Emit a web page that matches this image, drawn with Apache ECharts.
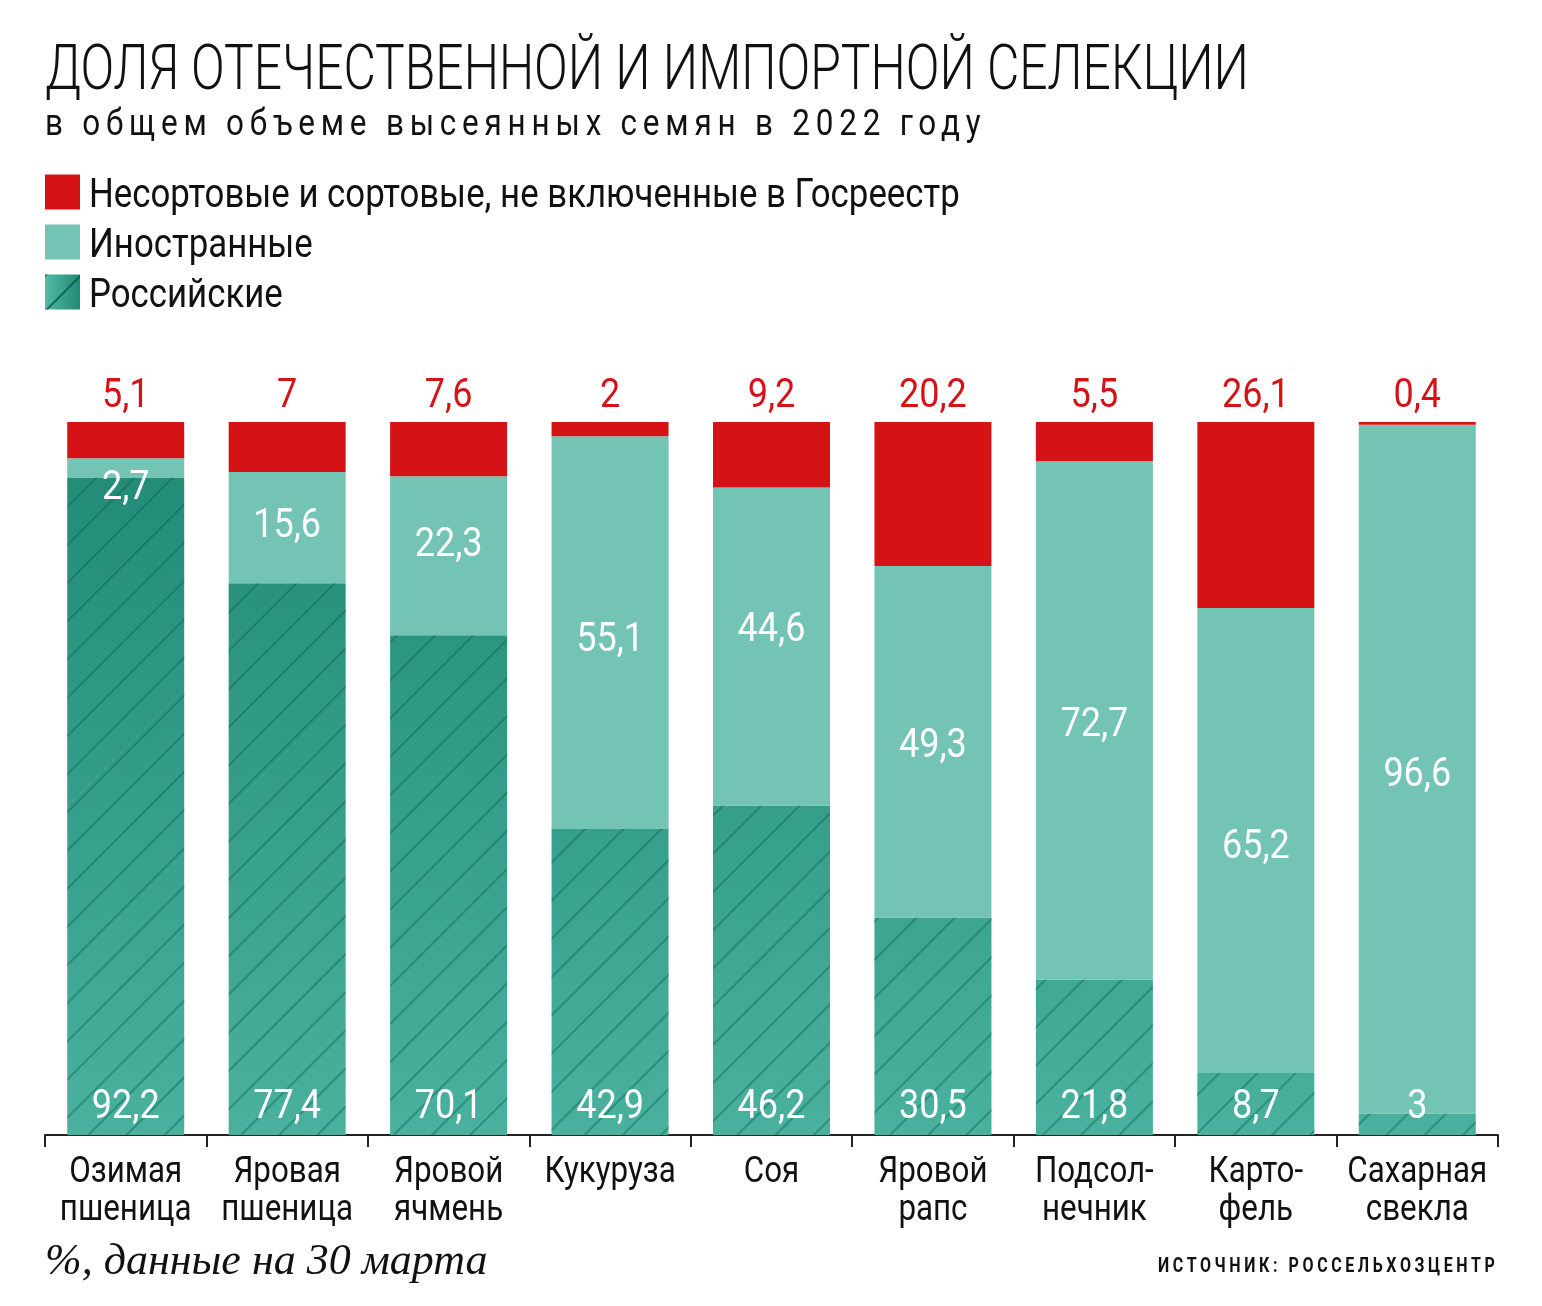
<!DOCTYPE html>
<html><head><meta charset="utf-8">
<script src="https://cdn.jsdelivr.net/npm/echarts@6/dist/echarts.min.js"></script>
<style>html,body{margin:0;padding:0;background:#fff}#c{width:1542px;height:1306px}</style>
</head><body><div id="c"></div>
<script>
// ---- data ----
const categories = ['Озимая\nпшеница','Яровая\nпшеница','Яровой\nячмень','Кукуруза','Соя','Яровой\nрапс','Подсол-\nнечник','Карто-\nфель','Сахарная\nсвекла'];
const russian = [92.2, 77.4, 70.1, 42.9, 46.2, 30.5, 21.8, 8.7, 3];
const foreign = [2.7, 15.6, 22.3, 55.1, 44.6, 49.3, 72.7, 65.2, 96.6];
const unregistered = [5.1, 7, 7.6, 2, 9.2, 20.2, 5.5, 26.1, 0.4];
const seriesNames = ['Несортовые и сортовые, не включенные в Госреестр', 'Иностранные', 'Российские'];

// label nudges (style only, px) for the "Иностранные" labels, as placed in the original
const foreignLabelNudge = [21, -1, -10, 8, -16, 5, 6, 7, 7];

// text rendering helper: family markers SXnn => horizontal scale nn%, LSnn => letter spacing nn/10 px
(function(){
  const P = CanvasRenderingContext2D.prototype;
  function wrap(name){
    const orig = P[name];
    P[name] = function(t, x, y, m){
      const f = this.font || '';
      const sx = /SX(\d+)/.exec(f);
      const ls = /LS(\d+)/.exec(f);
      if ('letterSpacing' in this) this.letterSpacing = ls ? (+ls[1] / 10) + 'px' : '0px';
      if (sx) {
        const s = +sx[1] / 100;
        this.save();
        this.translate(x, y);
        this.scale(s, 1);
        const r = m === undefined ? orig.call(this, t, 0, 0) : orig.call(this, t, 0, 0, m / s);
        this.restore();
        return r;
      }
      return m === undefined ? orig.call(this, t, x, y) : orig.call(this, t, x, y, m);
    };
  }
  wrap('fillText'); wrap('strokeText');
})();

const fam = (sx, ls) => 'Roboto, SX' + sx + (ls ? ', LS' + ls : '') + ', sans-serif';
const RED = '#d51317';
const LIGHT = '#73c4b5';
const fmt = v => String(v).replace('.', ',');

const chart = echarts.init(document.getElementById('c'), null, {renderer: 'canvas'});

const hatch = {
  symbol: 'rect', symbolSize: 1,
  color: 'rgba(8,95,78,0.42)',
  dashArrayX: [1, 0],
  dashArrayY: [2, 25],
  rotation: -Math.PI / 4
};
const russianGrad = new echarts.graphic.LinearGradient(0, 422, 0, 1135, [
  {offset: 0, color: '#1f8974'},
  {offset: 1, color: '#49b19e'}
], true);
const legendRussian = new echarts.graphic.LinearGradient(0, 0, 1, 0, [
  {offset: 0, color: '#52baa7'},
  {offset: 1, color: '#1f8a75'}
]);

const dataLabel = {fontSize: 40, fontFamily: fam(90), fontWeight: 400};

chart.setOption({
  animation: false,
  textStyle: {fontFamily: fam(88)},
  grid: {left: 45, right: 44, top: 422, bottom: 171},
  legend: {
    orient: 'vertical', left: 45, top: 167, padding: 0,
    itemWidth: 35, itemHeight: 35, itemGap: 0,
    icon: 'rect', selectedMode: false,
    formatter: name => '{t|' + name + '}',
    textStyle: {
      fontSize: 40, color: '#111', fontFamily: fam(87),
      rich: {t: {fontSize: 40, color: '#111', fontFamily: fam(87), lineHeight: 40, padding: [10, 0, 0, 4]}}
    },
    data: [
      {name: seriesNames[0]},
      {name: seriesNames[1]},
      {name: seriesNames[2], itemStyle: {color: legendRussian, decal: {symbol: 'rect', symbolSize: 1, color: 'rgba(8,80,65,0.75)', dashArrayX: [1, 0], dashArrayY: [1.5, 23], rotation: -Math.PI / 4}}}
    ]
  },
  xAxis: {
    type: 'category', data: categories,
    axisLine: {lineStyle: {color: '#222', width: 2}},
    axisTick: {show: true, length: 12, lineStyle: {color: '#222', width: 2}},
    axisLabel: {fontSize: 36, color: '#111', lineHeight: 38, margin: 19, fontFamily: fam(87), interval: 0}
  },
  yAxis: {type: 'value', min: 0, max: 100, show: false},
  series: [
    {
      name: seriesNames[2], type: 'bar', stack: 's', barWidth: 117,
      data: russian,
      itemStyle: {color: russianGrad, decal: hatch},
      label: Object.assign({show: true, position: 'insideBottom', distance: 7, color: '#fff', formatter: p => fmt(p.value)}, dataLabel)
    },
    {
      name: seriesNames[1], type: 'bar', stack: 's', barWidth: 117,
      data: foreign.map((v, i) => ({value: v, label: {offset: [0, foreignLabelNudge[i]]}})),
      itemStyle: {color: LIGHT},
      label: Object.assign({show: true, position: 'inside', color: '#fff', formatter: p => fmt(p.value)}, dataLabel)
    },
    {
      name: seriesNames[0], type: 'bar', stack: 's', barWidth: 117,
      data: unregistered,
      itemStyle: {color: RED},
      label: Object.assign({show: true, position: 'top', distance: 5, color: RED, formatter: p => fmt(p.value)}, dataLabel)
    }
  ],
  graphic: [
    {type: 'text', style: {x: 45, y: 73, verticalAlign: 'middle', text: 'ДОЛЯ ОТЕЧЕСТВЕННОЙ И ИМПОРТНОЙ СЕЛЕКЦИИ', font: '300 63px ' + fam(79), fill: '#111'}},
    {type: 'text', style: {x: 45, y: 126, verticalAlign: 'middle', text: 'в общем объеме высеянных семян в 2022 году', font: '400 37px ' + fam(85, 68), fill: '#111'}},
    {type: 'text', style: {x: 45, y: 1262, verticalAlign: 'middle', text: '%, данные на 30 марта', font: 'italic 44px "Liberation Serif", serif', fill: '#111'}},
    {type: 'text', style: {x: 1158, y: 1267, verticalAlign: 'middle', text: 'ИСТОЧНИК: РОССЕЛЬХОЗЦЕНТР', font: 'bold 20px ' + fam(80, 45), fill: '#111'}}
  ]
});
</script></body></html>
